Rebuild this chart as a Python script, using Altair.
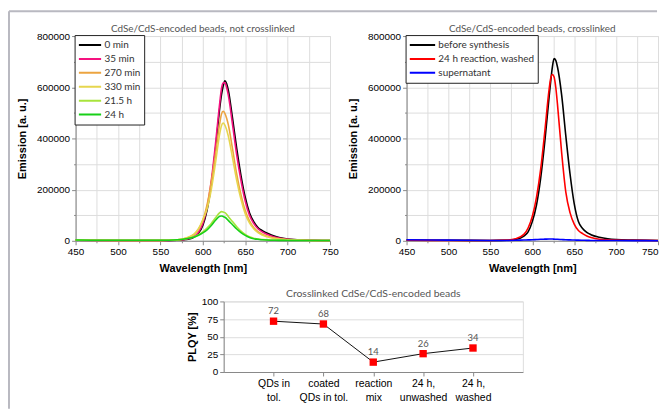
import altair as alt
import pandas as pd

FONT = "Lato"

# ---------------- data ----------------
wavelength = [450, 500, 550, 570, 580, 590, 595, 600, 605, 610, 615, 620, 622, 624,
              626, 628, 630, 635, 640, 645, 650, 655, 660, 665, 670, 680, 690, 700, 720, 750]

# emission in thousands of a.u.
nc_series = ["0 min", "35 min", "270 min", "330 min", "21.5 h", "24 h"]
nc_colors = ["#000000", "#f5127f", "#eca440", "#e6d64e", "#a8e43c", "#18d018"]
nc_0min = [2, 1.5, 1, 2, 5, 15, 30, 60, 120, 220, 360, 520, 570, 605, 625, 615, 590, 480, 360, 255, 170, 110, 75, 52, 40, 24, 13, 7, 3, 1]
nc_35min = [2, 1.5, 1, 2, 6, 17, 34, 68, 130, 235, 380, 540, 595, 617, 618, 600, 570, 455, 335, 235, 155, 100, 68, 47, 35, 20, 11, 6, 3, 1]
nc_270min = [2, 1.5, 1.5, 4, 10, 25, 45, 80, 140, 230, 340, 460, 495, 506, 498, 480, 455, 360, 260, 180, 118, 78, 52, 36, 26, 14, 8, 5, 2, 1]
nc_330min = [2, 1.5, 1.5, 4, 11, 27, 48, 82, 125, 200, 305, 420, 450, 460, 452, 435, 410, 325, 235, 162, 106, 70, 47, 32, 23, 12, 7, 4, 2, 1]
nc_21h = [3, 2, 2, 4, 8, 16, 24, 35, 50, 68, 90, 110, 114, 113, 110, 104, 95, 75, 55, 38, 25, 16, 10, 7, 5, 3, 2.5, 2, 1.5, 1]
nc_24h = [3, 2, 2, 4, 8, 15, 22, 31, 43, 60, 80, 96, 97, 95, 92, 87, 80, 63, 46, 32, 21, 13, 8, 6, 4, 2, 1.8, 1.5, 1.2, 1]

cl_series = ["before synthesis", "24 h reaction, washed", "supernatant"]
cl_colors = ["#000000", "#ff0000", "#0000ff"]
cl_before = [3, 2, 1.5, 2, 5, 18, 35, 75, 140, 245, 390, 560, 625, 680, 712, 705, 680, 570, 410, 262, 145, 75, 48, 33, 24, 14, 8, 5, 3, 1]
cl_washed = [2, 1.5, 1.5, 3, 8, 25, 50, 95, 170, 280, 430, 590, 635, 650, 640, 600, 535, 345, 190, 110, 65, 40, 28, 19, 13, 6, 4, 3, 2, 1]
cl_super = [4, 2.5, 1.5, 1.5, 2, 3, 3.5, 4, 5, 6, 6.5, 7, 7, 7, 6.5, 6, 6, 5, 4, 3.5, 3, 2.5, 2, 1.8, 1.5, 1.2, 1, 1, 0.8, 0.5]

plqy_categories = ["QDs in|tol.", "coated|QDs in tol.", "reaction|mix", "24 h,|unwashed", "24 h,|washed"]
plqy_values = [72, 68, 14, 26, 34]

x_ticks = [450, 475, 500, 525, 550, 575, 600, 625, 650, 675, 700, 725, 750]
y_ticks = [0, 100000, 200000, 300000, 400000, 500000, 600000, 700000, 800000]
plqy_ticks = [0, 25, 50, 75, 100]

FRAME = "#b9b9c1"


def long_df(names, arrays):
    rows = []
    for order, (name, arr) in enumerate(zip(names, arrays)):
        for wl, v in zip(wavelength, arr):
            rows.append({"wl": wl, "emission": v * 1000, "series": name, "order": order})
    return pd.DataFrame(rows)


nc_df = long_df(nc_series, [nc_0min, nc_35min, nc_270min, nc_330min, nc_21h, nc_24h])
cl_df = long_df(cl_series, [cl_before, cl_washed, cl_super])
plqy_df = pd.DataFrame({"cat": plqy_categories, "plqy": plqy_values})


# ---------------- axes ----------------
def x_axis(last_right):
    kw = {}
    if last_right:
        kw["labelAlign"] = {"condition": {"test": "datum.value === 750", "value": "right"}, "value": "center"}
    return alt.Axis(values=x_ticks, title="Wavelength [nm]", labelFlush=False, labelOverlap=False,
                    labelExpr="datum.value % 50 === 0 ? datum.label : ''",
                    tickSize={"condition": {"test": "datum.value % 50 === 0", "value": 4}, "value": 2},
                    titlePadding=6, **kw)


def y_axis():
    return alt.Axis(values=y_ticks, title="Emission [a. u.]", format="d", labelOverlap=False,
                    labelExpr="datum.value % 200000 === 0 ? datum.label : ''",
                    tickSize={"condition": {"test": "datum.value % 200000 === 0", "value": 4}, "value": 2},
                    titlePadding=9)


def spectra(df, names, colors, title, sym_size, width, last_right):
    base = alt.Chart(df).mark_line(strokeWidth=1.6, interpolate="monotone").encode(
        x=alt.X("wl:Q", scale=alt.Scale(domain=[450, 750], nice=False), axis=x_axis(last_right)),
        y=alt.Y("emission:Q", scale=alt.Scale(domain=[0, 800000], nice=False), axis=y_axis()),
        color=alt.Color("series:N", scale=alt.Scale(domain=names, range=colors),
                        legend=alt.Legend(title=None, orient="none", legendX=-1, legendY=-1,
                                          strokeColor="#222", fillColor="white", padding=3,
                                          symbolType="stroke", symbolSize=sym_size, symbolStrokeWidth=2,
                                          clipHeight=14, labelFontSize=10, labelFont=FONT,
                                          labelColor="#333", labelOffset=2, rowPadding=0)),
        detail="series:N",
        order=alt.Order("order:Q"),
    )
    return base.properties(
        width=width, height=206,
        title=alt.TitleParams(title, fontSize=10, fontWeight="normal", color="#555", font=FONT,
                              offset=-3, frame="group"),
    )


left = spectra(nc_df, nc_series, nc_colors, "CdSe/CdS-encoded beads, not crosslinked", 500, 256, False)
right = spectra(cl_df, cl_series, cl_colors, "CdSe/CdS-encoded beads, crosslinked", 650, 253, True)

# ---------------- PLQY panel ----------------
px = alt.X("cat:N", sort=plqy_categories, scale=alt.Scale(type="point", padding=1),
           axis=alt.Axis(title=None, labelAngle=0, labelExpr="split(datum.label, '|')",
                         labelLineHeight=14, labelFontSize=10.5, labelPadding=3, tickSize=4))
py = alt.Y("plqy:Q", scale=alt.Scale(domain=[0, 100], nice=False),
           axis=alt.Axis(values=plqy_ticks, title="PLQY [%]", titlePadding=4, tickSize=4))
pbase = alt.Chart(plqy_df).encode(x=px, y=py)
plqy = alt.layer(
    pbase.mark_line(color="#111", strokeWidth=1),
    pbase.mark_square(color="#ff0000", size=55, opacity=1),
    pbase.mark_text(dy=-10, fontSize=9.5, color="#555", font=FONT).encode(text="plqy:Q"),
).properties(width=301, height=71,
             title=alt.TitleParams("Crosslinked CdSe/CdS-encoded beads", fontSize=10.5, fontWeight="normal",
                                   color="#555", font=FONT, offset=-3, frame="group"))

# spacer cell (no data) carrying the figure's thin grey frame
one = pd.DataFrame({"a": [0]})
frame_top = alt.Chart(one).mark_rule(color=FRAME, strokeWidth=2).encode(
    x=alt.value(-67), x2=alt.value(585), y=alt.value(-292))
frame_left = alt.Chart(one).mark_rule(color=FRAME, strokeWidth=2).encode(
    x=alt.value(-67), y=alt.value(-292), y2=alt.value(108))
spacer = alt.layer(frame_top, frame_left).properties(
    width=129, height=71, view=alt.ViewBackground(strokeOpacity=0))

top_row = alt.hconcat(left, right, spacing=77, bounds="flush").resolve_scale(color="independent")
bottom_row = alt.hconcat(spacer, plqy, spacing=20, bounds="flush")

chart = alt.vconcat(top_row, bottom_row, spacing=267, bounds="flush").resolve_scale(
    color="independent").properties(
    padding={"left": 0, "top": 1, "right": 0, "bottom": 0}
).configure_view(stroke="#222", strokeWidth=1.2).configure_axis(
    grid=False, domainColor="#222", tickColor="#222", labelColor="#666", labelFont=FONT, labelFontSize=9,
    titleFont=FONT, titleFontSize=10.5, titleFontWeight="bold", titleColor="#111",
).configure(background="white")

chart.save("out.html", embed_options={"renderer": "svg", "actions": False})
